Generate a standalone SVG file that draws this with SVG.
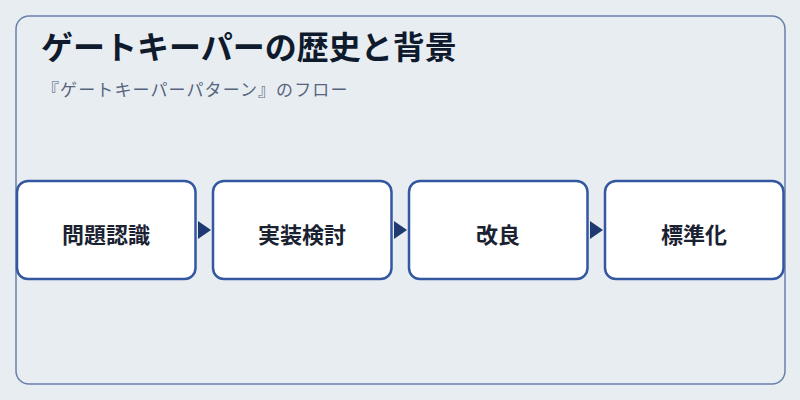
<svg xmlns="http://www.w3.org/2000/svg" width="800" height="400" viewBox="0 0 800 400">
<style>
.title{font-family:"Noto Sans CJK JP","Noto Sans",sans-serif;font-size:32px;font-weight:700;fill:#0f1b2d}
.sub{font-family:"Noto Sans CJK JP","Noto Sans",sans-serif;font-size:17px;letter-spacing:1.1px;fill:#56657d}
.box{fill:#ffffff;stroke:#3357a0;stroke-width:2.5}
.lbl{font-family:"Noto Sans CJK JP","Noto Sans",sans-serif;font-size:22px;font-weight:700;fill:#1a2232;text-anchor:middle;dominant-baseline:central}
.arr{fill:#1f3a70}
</style>
<rect width="800" height="400" fill="#e8edf2"/>
<rect x="16" y="16" width="769" height="368" rx="13" fill="none" stroke="#6a80aa" stroke-width="1.5"/>
<text class="title" x="41" y="59">ゲートキーパーの歴史と背景</text>
<text class="sub" x="42" y="96">『ゲートキーパーパターン』のフロー</text>
<g id="connectors">
<polygon class="arr" points="198,221 211,230 198,239"/>
<polygon class="arr" points="394,221 407,230 394,239"/>
<polygon class="arr" points="590,221 603,230 590,239"/>
</g>
<g id="node1"><rect class="box" x="17" y="181" width="178.5" height="98" rx="11"/><text class="lbl" x="106" y="232.5">問題認識</text></g>
<g id="node2"><rect class="box" x="213" y="181" width="178.5" height="98" rx="11"/><text class="lbl" x="302" y="232.5">実装検討</text></g>
<g id="node3"><rect class="box" x="409" y="181" width="178.5" height="98" rx="11"/><text class="lbl" x="498" y="232.5">改良</text></g>
<g id="node4"><rect class="box" x="605" y="181" width="178.5" height="98" rx="11"/><text class="lbl" x="694" y="232.5">標準化</text></g>
</svg>
